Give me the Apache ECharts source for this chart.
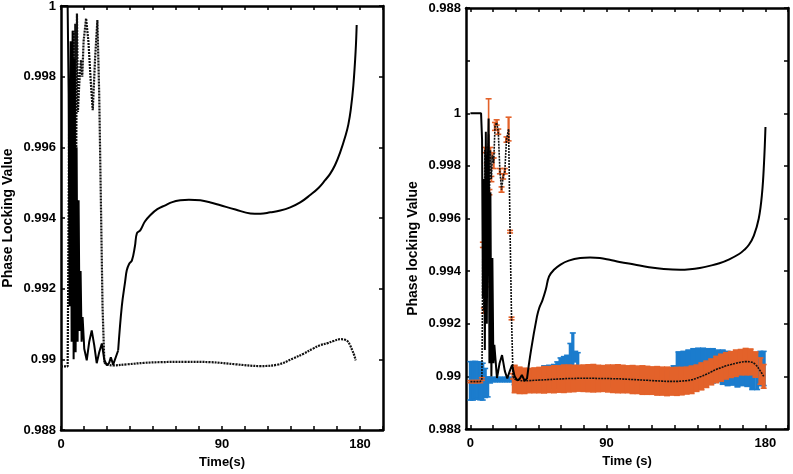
<!DOCTYPE html>
<html>
<head>
<meta charset="utf-8">
<script src="https://cdn.jsdelivr.net/npm/echarts@6/dist/echarts.min.js"></script>
<style>
html,body{margin:0;padding:0;background:#fff;}
#chart{width:793px;height:474px;}
</style>
</head>
<body>
<div id="chart"></div>
<script>
// ---------------- DATA ----------------
// x-axis: the source figure has 14 equal minor-tick steps; "180" sits on tick 13
const xTickStep = 180 / 13;
const xTickCount = 14;
const xLabelTexts = ['0', '90', '180'];
const leftXLabelTicks = [0, 7, 13];
const rightXLabelTicks = [0, 6, 13];

const leftYTicks = [0.988, 0.990, 0.992, 0.994, 0.996, 0.998, 1.000];
const leftYLabels = ['0.988', '0.99', '0.992', '0.994', '0.996', '0.998', '1'];
const rightYTicks = [0.988, 0.990, 0.992, 0.994, 0.996, 0.998, 1.000, 1.002, 1.004];
const rightYLabels = ['0.988', '0.99', '0.992', '0.994', '0.996', '0.998', '1', '', '0.988'];

// Left panel – solid curve
const leftSolidTime = [0,4,4.6,5.2,5.8,6.4,7.0,7.6,8.2,8.8,9.4,10.0,10.6,11.2,11.8,12.4,13.0,14.0,15.5,17,18.5,20,21.5,23,24.6,26,27.6,29,30,31.4,32.6,34.4,36.6,38.6,39.6,41,42.7,44.5,45.7,47.7,50.5,53.7,58,62.8,67,71.8,77,83.9,90,96,105,114,120,126,132,138,144,150,155,159,162,165,168,171.4,173,174.4,176,177.4,178];
const leftSolidValue = [1.0,1.0,0.9975,0.9915,0.9990,0.9905,0.9993,0.9900,0.9985,0.9902,0.9960,0.9905,0.9945,0.9908,0.9925,0.9905,0.9912,0.9903,0.98997,0.9905,0.99082,0.9904,0.98989,0.9902,0.99045,0.9900,0.98983,0.9899,0.99006,0.98985,0.98983,0.99025,0.9915,0.9922,0.99252,0.9927,0.9928,0.9932,0.99357,0.99365,0.9939,0.99408,0.99425,0.99436,0.99445,0.9945,0.99452,0.9945,0.99444,0.99436,0.99424,0.99413,0.99412,0.99416,0.99421,0.9943,0.99444,0.99465,0.99485,0.99507,0.99525,0.9955,0.99585,0.99635,0.99665,0.99705,0.99775,0.99875,0.99946];

// Left panel – dotted curve
const leftDotTime = [0,2,4,4.5,5.0,5.6,6.2,6.8,7.4,8.0,8.6,9.2,9.6,10.2,11,12,12.8,13.6,15.1,16.5,18,19.1,20.5,21.9,23,24,25,26.1,28,31.4,40,50,59.7,75,90,105,120,130.4,140,146,152,156,160.5,164,168.4,170.5,172.6,174,175.4,176.5,177.4];
const leftDotValue = [0.9898,0.9898,0.9898,0.9935,0.9975,0.9920,0.9985,0.9930,0.9993,0.9945,0.9995,0.9960,0.99979,0.9970,0.9978,0.99847,0.9980,0.9990,0.99965,0.9990,0.9978,0.99705,0.9985,0.9996,0.9975,0.9945,0.9915,0.98991,0.98985,0.98983,0.98986,0.9899,0.98992,0.98993,0.98992,0.98986,0.98981,0.98985,0.99003,0.99016,0.99031,0.9904,0.99046,0.99052,0.99057,0.99056,0.99051,0.9904,0.99025,0.99012,0.98997];

// Right panel – solid curve
const rightSolidTime = [0,6.5,7.1,7.6,8.2,8.8,9.4,10.0,10.6,11.1,11.6,12.2,12.8,13.4,14.0,14.6,16.2,17.8,19.3,21,22.5,24,25.4,27,28.5,30,31.4,33,34.5,37,40.6,42,44,46,48,51,55,60,67,73,79,85,91,100,109,118,128,134,140,146,152,158,164,167,170,173,176,178,179.2,180.1];
const rightSolidValue = [1.0,1.0,0.9990,0.9930,0.9975,0.9910,0.9993,0.9920,0.9980,0.9998,0.9905,0.9970,0.9900,0.9945,0.9905,0.9912,0.98994,0.9905,0.99081,0.9902,0.98992,0.9902,0.99043,0.9900,0.98985,0.9899,0.99005,0.98985,0.9899,0.9910,0.99227,0.9926,0.9929,0.9933,0.9938,0.99405,0.99425,0.9944,0.9945,0.99452,0.9945,0.99443,0.99435,0.99425,0.99415,0.99408,0.99405,0.99407,0.99412,0.9942,0.9943,0.99445,0.99465,0.9948,0.995,0.99535,0.9960,0.99695,0.9981,0.99948];

// Right panel – mean curve with orange error bars
const orangeTime = [0,1.5,3,4.5,6,7,7.6,8.2,8.8,9.4,10,10.6,11.1,11.6,12.2,12.8,13.4,14.2,15,16,17,18,19,20,21,22,23.3,24.2,25.1,26,
  27,30,33,36,39,42,45,48,51,54,57,60,63,66,69,72,75,78,81,84,87,90,93,96,99,102,105,108,111,114,117,120,123,126,129,132,135,138,141,144,147,150,153,156,159,162,165,168,171,174,177,179];
const orangeMean = [0.9898,0.9898,0.9898,0.9898,0.9898,0.9899,0.9950,0.9925,0.9986,0.9935,0.9980,0.9945,0.9992,0.9970,0.9986,0.9975,0.9984,0.9981,0.9995,0.99965,0.9993,0.9978,0.9971,0.9976,0.9978,0.9990,0.9994,0.9955,0.9922,0.9900,
  0.98990,0.98985,0.98983,0.98984,0.98985,0.98986,0.98987,0.98988,0.98989,0.98990,0.98991,0.98992,0.98992,0.98993,0.98993,0.98993,0.98993,0.98992,0.98992,0.98992,0.98991,0.98991,0.98990,0.98989,0.98988,0.98987,0.98986,0.98985,0.98984,0.98983,0.98982,0.98981,0.98981,0.98981,0.98982,0.98984,0.98987,0.98993,0.99000,0.99008,0.99017,0.99026,0.99033,0.99040,0.99045,0.99050,0.99054,0.99056,0.99055,0.99045,0.99020,0.99000];
const orangeErr = [0.00004,0.00004,0.00004,0.00004,0.00004,0.00005,0.0001,0.0001,0.0001,0.0001,0.0001,0.0001,0.00135,0.0001,0.0001,0.0001,0.0001,0.0002,0.00015,0.0001,0.0001,0.0001,0.0001,0.0001,0.0001,0.0001,0.00045,0.00005,0.00005,0.0001,
  0.00052,0.0005,0.00048,0.00046,0.00047,0.00048,0.0005,0.00049,0.00051,0.0005,0.00052,0.00051,0.0005,0.00049,0.0005,0.00051,0.00052,0.0005,0.00049,0.00051,0.00052,0.00053,0.00052,0.00051,0.00053,0.00052,0.00054,0.00053,0.00052,0.00054,0.00053,0.00054,0.00052,0.00053,0.00052,0.00051,0.00052,0.0005,0.00051,0.0005,0.00049,0.0005,0.00051,0.0005,0.00049,0.0005,0.00048,0.0005,0.00049,0.00048,0.0005,0.00045];

// Right panel – blue error-bar series
const blueTime = [0,1.5,3,4.5,6,7.5,9,10.5,12,13.5,15,16.5,18,19.5,21,22.5,24,25.5,27,30,33,36,39,42,45,48,51,53,55,57,59,61,62.5,64,65.5,67,69,72,76,80,85,90,95,100,105,110,115,120,124,127,130,133,136,139,142,145,148,151,154,157,160,163,166,169,172,175,177,179];
const blueMean = [0.98983,0.98983,0.98985,0.98985,0.98983,0.98980,0.98975,0.98960,0.98985,0.98988,0.98988,0.98988,0.98988,0.98988,0.98988,0.98988,0.98988,0.98988,0.98988,0.9899,0.9899,0.9899,0.9899,0.9899,0.98995,0.9900,0.9900,0.99005,0.9902,0.9903,0.9904,0.9907,0.9910,0.99075,0.9906,0.9900,0.9899,0.9899,0.9899,0.9899,0.9899,0.9899,0.9899,0.9899,0.9899,0.9899,0.9899,0.9899,0.9900,0.99035,0.99035,0.9904,0.9904,0.99045,0.99045,0.9904,0.9904,0.9904,0.99035,0.9903,0.9903,0.99025,0.9903,0.9903,0.9902,0.9902,0.9903,0.9903];
const blueErr = [0.00073,0.00073,0.00072,0.0007,0.00072,0.0007,0.00055,0.00038,0.0001,0.00008,0.00008,0.00008,0.00008,0.00008,0.00008,0.00008,0.00008,0.00008,0.0002,0.0003,0.0003,0.0003,0.0003,0.0003,0.00045,0.00042,0.00045,0.0005,0.0005,0.00045,0.0004,0.00055,0.00065,0.0002,0.0003,0.0004,0.0003,0.0003,0.0003,0.0003,0.0003,0.0003,0.0003,0.0003,0.0003,0.0003,0.0003,0.0003,0.0004,0.00058,0.0006,0.0006,0.00065,0.00062,0.00062,0.00065,0.00065,0.0006,0.00065,0.00065,0.00063,0.00065,0.00065,0.00068,0.0007,0.0007,0.00065,0.00065];

// ---------------- CHART ----------------
const FONT = '"Liberation Sans", Arial, sans-serif';
const chart = echarts.init(document.getElementById('chart'), null, {renderer: 'canvas'});
const zip = (a, b) => a.map((v, i) => [v, b[i]]);
const xTicks = []; for (let i = 0; i <= xTickCount; i++) xTicks.push(i * xTickStep);
const xMax = xTickCount * xTickStep;

function lookupLabel(v, ticks, labels) {
  for (let i = 0; i < ticks.length; i++) if (Math.abs(ticks[i] - v) < 1e-7) return labels[i];
  return '';
}
const lineCol = '#000';
function xAxisPair(grid, min, labelTicks, name) {
  const labelVals = labelTicks.map(k => k * xTickStep);
  return [{
    gridIndex: grid, type: 'value', position: 'bottom', min: min, max: xMax,
    axisLine: {show: true, onZero: false, lineStyle: {color: lineCol, width: 2.5}},
    axisTick: {show: true, inside: true, length: 4, customValues: xTicks, lineStyle: {color: lineCol, width: 1.5}},
    axisLabel: {customValues: labelVals, formatter: v => lookupLabel(v, labelVals, xLabelTexts),
      color: '#000', fontWeight: 'bold', fontSize: 13, fontFamily: FONT, margin: 8},
    splitLine: {show: false},
    name: name, nameLocation: 'middle', nameGap: 26,
    nameTextStyle: {color: '#000', fontWeight: 'bold', fontSize: 13, fontFamily: FONT}
  }, {
    gridIndex: grid, type: 'value', position: 'top', min: min, max: xMax,
    axisLine: {show: true, onZero: false, lineStyle: {color: lineCol, width: 2.5}},
    axisTick: {show: true, inside: true, length: 4, customValues: xTicks, lineStyle: {color: lineCol, width: 1.5}},
    axisLabel: {show: false}, splitLine: {show: false}
  }];
}
function yAxisPair(grid, max, ticks, labels, name, namePad) {
  return [{
    gridIndex: grid, type: 'value', position: 'left', min: 0.988, max: max,
    axisLine: {show: true, onZero: false, lineStyle: {color: lineCol, width: 2.5}},
    axisTick: {show: true, inside: true, length: 4, customValues: ticks, lineStyle: {color: lineCol, width: 1.5}},
    axisLabel: {customValues: ticks, formatter: v => lookupLabel(v, ticks, labels),
      color: '#000', fontWeight: 'bold', fontSize: 13, fontFamily: FONT, margin: 5},
    splitLine: {show: false},
    name: name, nameLocation: 'middle', nameGap: 46, nameRotate: 90,
    nameTextStyle: {color: '#000', fontWeight: 'bold', fontSize: 14, fontFamily: FONT, padding: namePad}
  }, {
    gridIndex: grid, type: 'value', position: 'right', min: 0.988, max: max,
    axisLine: {show: true, onZero: false, lineStyle: {color: lineCol, width: 2.5}},
    axisTick: {show: true, inside: true, length: 4, customValues: ticks, lineStyle: {color: lineCol, width: 1.5}},
    axisLabel: {show: false}, splitLine: {show: false}
  }];
}

function errorBars(xi, yi, times, means, errs, color, z) {
  const data = times.map((t, i) => [t, means[i] - errs[i], means[i] + errs[i], i]);
  return {
    type: 'custom', xAxisIndex: xi, yAxisIndex: yi, z: z, data: data, clip: true,
    renderItem: function (params, api) {
      const i = api.value(3);
      const t = api.value(0);
      const lo = api.coord([t, api.value(1)]);
      const hi = api.coord([t, api.value(2)]);
      let gap;
      if (i < times.length - 1) gap = api.coord([times[i + 1], 0.99])[0] - lo[0];
      else gap = lo[0] - api.coord([times[i - 1], 0.99])[0];
      const w = Math.max(1.6, Math.min(gap + 0.8, 7));
      const cap = 3;
      return {
        type: 'group', children: [
          {type: 'rect', shape: {x: lo[0] - w / 2, y: hi[1], width: w, height: Math.max(1, lo[1] - hi[1])}, style: {fill: color}},
          {type: 'line', shape: {x1: hi[0] - cap, y1: hi[1], x2: hi[0] + cap, y2: hi[1]}, style: {stroke: color, lineWidth: 1.6}},
          {type: 'line', shape: {x1: lo[0] - cap, y1: lo[1], x2: lo[0] + cap, y2: lo[1]}, style: {stroke: color, lineWidth: 1.6}}
        ]
      };
    }
  };
}

// split a curve into its spiky start (straight segments) and its smooth remainder
function splitCurve(times, values, tSplit) {
  const k = times.findIndex(t => t >= tSplit);
  return [zip(times.slice(0, k + 1), values.slice(0, k + 1)), zip(times.slice(k), values.slice(k))];
}
const lS = splitCurve(leftSolidTime, leftSolidValue, 34.4);
const lD = splitCurve(leftDotTime, leftDotValue, 26.1);
const rS = splitCurve(rightSolidTime, rightSolidValue, 34.5);
const rD = splitCurve(orangeTime, orangeMean, 26);

function line(xi, data, smooth, style, z) {
  return {type: 'line', xAxisIndex: xi, yAxisIndex: xi, data: data, showSymbol: false, smooth: smooth, z: z, lineStyle: style};
}
const dotLeft = {color: '#111', width: 2.2, type: [2, 1]};
const solid = {color: '#000', width: 2};
const dotRight = {color: '#111', width: 1.6, type: [2, 1]};

const option = {
  animation: false,
  backgroundColor: '#fff',
  grid: [
    {left: 61, right: 410, top: 6, bottom: 44, outerBoundsMode: 'none', containLabel: false},
    {left: 466, right: 5, top: 8, bottom: 45, outerBoundsMode: 'none', containLabel: false}
  ],
  xAxis: [].concat(
    xAxisPair(0, 0, leftXLabelTicks, 'Time(s)'),
    xAxisPair(1, -2.7, rightXLabelTicks, 'Time (s)')
  ),
  yAxis: [].concat(
    yAxisPair(0, 1.0, leftYTicks, leftYLabels, 'Phase Locking Value', [0, 0, 0, 0]),
    yAxisPair(1, 1.004, rightYTicks, rightYLabels, 'Phase locking Value', [0, 60, 0, 0])
  ),
  series: [
    line(0, lD[0], false, dotLeft, 3),
    line(0, lD[1], 0.4, dotLeft, 3),
    line(0, lS[0], false, solid, 4),
    line(0, lS[1], 0.4, solid, 4),
    errorBars(2, 2, blueTime, blueMean, blueErr, '#1b7ccd', 2),
    errorBars(2, 2, orangeTime, orangeMean, orangeErr, '#e3622a', 3),
    line(2, rD[0], false, dotRight, 4),
    line(2, rD[1], 0.4, dotRight, 4),
    line(2, rS[0], false, solid, 5),
    line(2, rS[1], 0.4, solid, 5)
  ]
};
chart.setOption(option);
</script>
</body>
</html>
